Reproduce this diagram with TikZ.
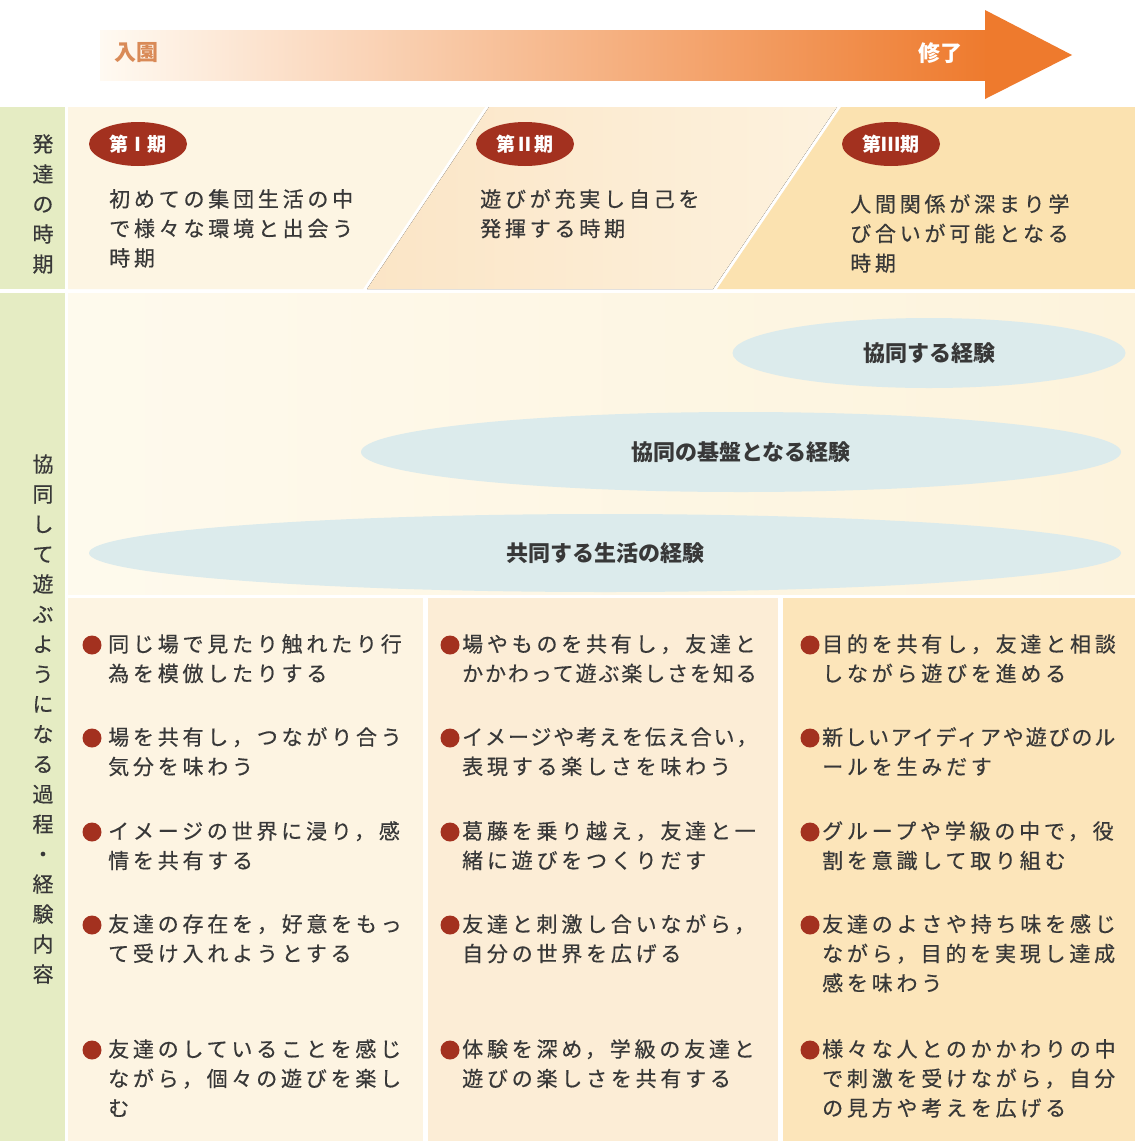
\documentclass[tikz,border=0pt]{standalone}
\usepackage{fontspec}
\usetikzlibrary{shapes.geometric}
\newfontfamily\jp[LetterSpace=18, FakeBold=0.5]{Noto Sans CJK JP}
\newfontfamily\jptight[LetterSpace=9, FakeBold=0.5]{Noto Sans CJK JP}
\newfontfamily\jpplain{Noto Sans CJK JP}
\definecolor{arrowL}{HTML}{FFFAF2}
\definecolor{arrowM}{HTML}{F9C793}
\definecolor{arrowR}{HTML}{EE7A2D}
\definecolor{enterc}{HTML}{D98A57}
\definecolor{greenband}{HTML}{E5ECC3}
\definecolor{pan1}{HTML}{FDF5E3}
\definecolor{pan2a}{HTML}{FBE5C6}
\definecolor{pan2b}{HTML}{FDF2DE}
\definecolor{pan3}{HTML}{FBE2B0}
\definecolor{zoneL}{HTML}{FEFAED}
\definecolor{zoneR}{HTML}{FDF3DC}
\definecolor{col1}{HTML}{FDF4E2}
\definecolor{col2}{HTML}{FCEDD6}
\definecolor{col3}{HTML}{FCE5BA}
\definecolor{ellblue}{HTML}{DCEBEC}
\definecolor{badgered}{HTML}{A3311F}
\definecolor{txtgray}{HTML}{383838}
\begin{document}
\begin{tikzpicture}[x=1pt, y=-1pt, line join=round,
    txt/.style={inner sep=0, align=left, anchor=north west, text=txtgray, font=\jp\fontsize{21}{29.5}\selectfont},
    period/.style={ellipse, fill=badgered, text=white, minimum width=98, minimum height=44, inner sep=0, font=\jpplain\bfseries\fontsize{19}{19}\selectfont},
    exper/.style={ellipse, fill=ellblue, inner sep=0, text=txtgray, font=\jpplain\bfseries\fontsize{22}{22}\selectfont},
    vlabel/.style={inner sep=0, align=center, text=txtgray, font=\jp\fontsize{21}{30}\selectfont}]
\fill[white] (0,0) rectangle (1135,1141);
\useasboundingbox (0,0) rectangle (1135,1141);
% arrow
\shade[left color=arrowL, middle color=arrowM, right color=arrowR] (100,30) rectangle (990,80);
\fill[arrowR] (985,10) -- (1072,55) -- (985,99) -- cycle;
\node[text=enterc, font=\jpplain\bfseries\fontsize{22}{22}\selectfont] (enter) at (136,53) {入園};
\node[text=white, font=\jpplain\bfseries\fontsize{22}{22}\selectfont] (finish) at (940,53) {修了};
% header row
\fill[greenband] (0,107) rectangle (65,289);
\fill[pan1] (68,107) -- (485,107) -- (363,289) -- (68,289) -- cycle;
\fill[left color=pan2a, right color=pan2b] (489,107) -- (837,107) -- (713,289) -- (367,289) -- cycle;
\fill[pan3] (841,107) -- (1135,107) -- (1135,289) -- (717,289) -- cycle;
\node[vlabel] (phase) at (43,204) {発\\達\\の\\時\\期};
\node[period] (p1) at (138,144) {第Ⅰ期};
\node[period] (p2) at (525,144) {第Ⅱ期};
\node[period] (p3) at (891,144) {第Ⅲ期};
\node[txt] (d1) at (109,189) {初めての集団生活の中\\で様々な環境と出会う\\時期};
\node[txt] (d2) at (480,189) {遊びが充実し自己を\\発揮する時期};
\node[txt] (d3) at (850,194) {人間関係が深まり学\\び合いが可能となる\\時期};
% body
\fill[greenband] (0,293) rectangle (65,1141);
\node[vlabel] (process) at (43,719) {協\\同\\し\\て\\遊\\ぶ\\よ\\う\\に\\な\\る\\過\\程\\・\\経\\験\\内\\容};
\fill[left color=zoneL, right color=zoneR] (68,293) rectangle (1135,594);
\node[exper, minimum width=393, minimum height=70] (e1) at (929,353) {協同する経験};
\node[exper, minimum width=760, minimum height=80] (e2) at (741,452) {協同の基盤となる経験};
\node[exper, minimum width=1032, minimum height=78] (e3) at (605,553) {共同する生活の経験};
\fill[col1] (68,598) rectangle (423,1141);
\fill[col2] (428,598) rectangle (778,1141);
\fill[col3] (783,598) rectangle (1135,1141);
\foreach \yy/\txt [count=\i] in {645/{同じ場で見たり触れたり行\\為を模倣したりする},
    738/{場を共有し，つながり合う\\気分を味わう},
    832/{イメージの世界に浸り，感\\情を共有する},
    925/{友達の存在を，好意をもっ\\て受け入れようとする},
    1050/{友達のしていることを感じ\\ながら，個々の遊びを楽し\\む}}{
  \fill[badgered] (92,\yy) circle (9.5pt);
  \node[txt] (one\i) at (108,\yy-11) {\txt};
}
\foreach \yy/\txt [count=\i] in {645/{場やものを共有し，友達と\\{\jptight かかわって遊ぶ楽しさを知る}},
    738/{{\jptight イメージや考えを伝え合い，}\\表現する楽しさを味わう},
    832/{葛藤を乗り越え，友達と一\\緒に遊びをつくりだす},
    925/{友達と刺激し合いながら，\\自分の世界を広げる},
    1050/{体験を深め，学級の友達と\\遊びの楽しさを共有する}}{
  \fill[badgered] (450,\yy) circle (9.5pt);
  \node[txt] (two\i) at (462,\yy-11) {\txt};
}
\foreach \yy/\txt [count=\i] in {645/{目的を共有し，友達と相談\\しながら遊びを進める},
    738/{{\jptight 新しいアイディアや遊びのル}\\ールを生みだす},
    832/{グループや学級の中で，役\\割を意識して取り組む},
    925/{友達のよさや持ち味を感じ\\ながら，目的を実現し達成\\感を味わう},
    1050/{様々な人とのかかわりの中\\で刺激を受けながら，自分\\の見方や考えを広げる}}{
  \fill[badgered] (810,\yy) circle (9.5pt);
  \node[txt] (three\i) at (822,\yy-11) {\txt};
}
\end{tikzpicture}
\end{document}
